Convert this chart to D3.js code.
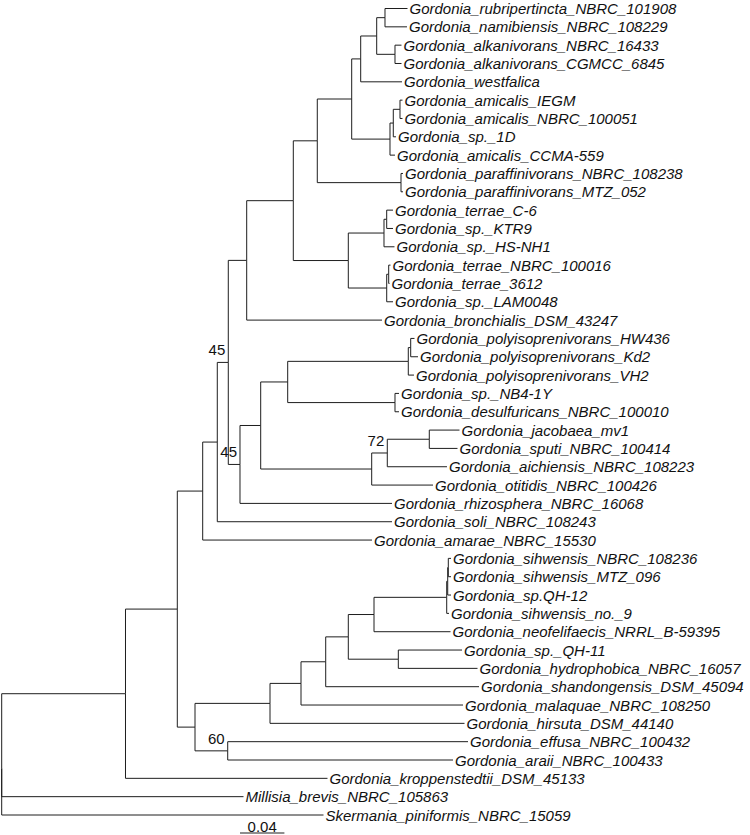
<!DOCTYPE html>
<html><head><meta charset="utf-8">
<script src="https://cdn.jsdelivr.net/npm/d3@7"></script>
<style>body{margin:0;background:#fff}</style>
</head><body><svg id="c" width="750" height="835"></svg>
<script>
// Tree data: node id, parent id, branch length (substitutions/site)
const nodeIds = ["root","T","U","Z","Y","W","F","NA","B","C","D","E","RN",
"Gordonia_rubripertincta_NBRC_101908","Gordonia_namibiensis_NBRC_108229","AK",
"Gordonia_alkanivorans_NBRC_16433","Gordonia_alkanivorans_CGMCC_6845","Gordonia_westfalica",
"AM","AM2","AM3","Gordonia_amicalis_IEGM","Gordonia_amicalis_NBRC_100051","Gordonia_sp._1D",
"Gordonia_amicalis_CCMA-559","PN","Gordonia_paraffinivorans_NBRC_108238","Gordonia_paraffinivorans_MTZ_052",
"TN","T1","T1a","Gordonia_terrae_C-6","Gordonia_sp._KTR9","Gordonia_sp._HS-NH1","T2","T2a",
"Gordonia_terrae_NBRC_100016","Gordonia_terrae_3612","Gordonia_sp._LAM0048","Gordonia_bronchialis_DSM_43247",
"G","H","I","PO","PO2","Gordonia_polyisoprenivorans_HW436","Gordonia_polyisoprenivorans_Kd2",
"Gordonia_polyisoprenivorans_VH2","NB","Gordonia_sp._NB4-1Y","Gordonia_desulfuricans_NBRC_100010",
"J","K","L","Gordonia_jacobaea_mv1","Gordonia_sputi_NBRC_100414","Gordonia_aichiensis_NBRC_108223",
"Gordonia_otitidis_NBRC_100426","Gordonia_rhizosphera_NBRC_16068","Gordonia_soli_NBRC_108243",
"Gordonia_amarae_NBRC_15530","AA","S","R","Q","O","N","M","M1","M2",
"Gordonia_sihwensis_NBRC_108236","Gordonia_sihwensis_MTZ_096","Gordonia_sp.QH-12","Gordonia_sihwensis_no._9",
"Gordonia_neofelifaecis_NRRL_B-59395","P","Gordonia_sp._QH-11","Gordonia_hydrophobica_NBRC_16057",
"Gordonia_shandongensis_DSM_45094","Gordonia_malaquae_NBRC_108250","Gordonia_hirsuta_DSM_44140",
"BB","Gordonia_effusa_NBRC_100432","Gordonia_araii_NBRC_100433","Gordonia_kroppenstedtii_DSM_45133",
"Millisia_brevis_NBRC_105863","Skermania_piniformis_NBRC_15059"];
const parentIds = ["","root","T","U","Z","Y","W","F","NA","B","C","D","E",
"RN","RN","E",
"AK","AK","D",
"C","AM","AM2","AM3","AM3","AM2",
"AM","B","PN","PN",
"NA","TN","T1","T1a","T1a","T1","TN","T2",
"T2a","T2a","T2","F",
"W","G","H","I","PO","PO2","PO2",
"PO","I","NB","NB",
"H","J","K","L","L","K",
"J","G","Y",
"Z","U","AA","S","R","Q","O","N","M","M1",
"M2","M2","M1","M",
"N","O","P","P",
"Q","R","S",
"AA","BB","BB","T",
"root","root"];
const branchLengths = [0,0.11153,0.04667,0.02288,0.01315,0.00991,0.01658,0.04198,0.02162,0.03099,0.00811,0.01441,0.00748,
0.02027,0.01982,0.01649,
0.00586,0.00586,0.03721,
0.0345,0.00297,0.00604,0.00225,0.00225,0.00243,
0.0045,0.07541,0.0018,0.0018,
0.04955,0.03216,0.00243,0.00568,0.00568,0.00946,0.0346,0.0018,
0.00162,0.00072,0.00568,0.12189,
0.01054,0.01865,0.02432,0.10865,0.00216,0.00342,0.00658,
0.00514,0.09667,0.0036,0.0036,
0.1,0.01405,0.03784,0.02721,0.02541,0.05378,
0.05523,0.13694,0.15739,
0.15252,0.01595,0.06757,0.02793,0.02225,0.02036,0.02315,0.0655,0.0009,0.00054,
0.00243,0.00243,0.00297,0.00207,
0.06892,0.04505,0.05739,0.07135,
0.13811,0.14595,0.17523,
0.02946,0.21649,0.20297,0.18198,
0.21784,0.28991];
const supportNodes = ["W","G","K","BB"];
const supportValues = [45,45,72,60];
const scaleBarValue = 0.04;
const scaleBarLabel = "0.04";

const svg = d3.select("#c");
const rows = nodeIds.map((id,i)=>({id, parent: parentIds[i], len: branchLengths[i]}));
const root = d3.stratify().id(d=>d.id).parentId(d=>d.parent || null)(rows);
root.eachBefore(n=>{ n.dist = n.parent ? n.parent.dist + n.data.len : 0; });
const leaves = root.leaves();
const x = d3.scaleLinear().domain([0, 0.04]).range([1.7, 1.7 + 44.4]);
const y = d3.scaleLinear().domain([0, leaves.length-1]).range([8.5, 815]);
leaves.forEach((l,i)=>{ l.yy = y(i); });
root.eachAfter(n=>{ if(n.children) n.yy = d3.mean(n.children, c=>c.yy); });

const g = svg.append("g");
g.selectAll("path.link").data(root.descendants().filter(n=>n.parent))
 .join("path").attr("class","link")
 .attr("fill","none").attr("stroke","#1e1e1e").attr("stroke-width",1)
 .attr("d", n=>`M${x(n.parent.dist)},${n.parent.yy}V${n.yy}H${x(n.dist)}`);

g.selectAll("text.tip").data(leaves).join("text").attr("class","tip")
 .attr("x", n=>x(n.dist)+2).attr("y", n=>n.yy+5.5)
 .attr("font-family","'Liberation Sans', Arial, Helvetica, sans-serif")
 .attr("font-style","italic").attr("font-size",15).attr("fill","#111")
 .text(n=>n.id);

const sup = supportNodes.map((id,i)=>({node: root.find(n=>n.id===id), v: supportValues[i]}));
g.selectAll("text.sup").data(sup).join("text").attr("class","sup")
 .attr("x", d=>x(d.node.dist)-3).attr("y", d=>d.node.yy-7)
 .attr("text-anchor","end")
 .attr("font-family","'Liberation Sans', Arial, Helvetica, sans-serif")
 .attr("font-size",15).attr("fill","#111")
 .text(d=>d.v);

// scale bar
const barStart = 240, barY = 833;
const barLen = x(scaleBarValue) - x(0);
g.append("line").attr("x1",barStart).attr("x2",barStart+barLen)
 .attr("y1",barY).attr("y2",barY).attr("stroke","#1e1e1e").attr("stroke-width",1.2);
g.append("text").attr("x",barStart+barLen/2).attr("y",barY-1.5)
 .attr("text-anchor","middle")
 .attr("font-family","'Liberation Sans', Arial, Helvetica, sans-serif")
 .attr("font-size",15).attr("fill","#111").text(scaleBarLabel);
</script></body></html>
